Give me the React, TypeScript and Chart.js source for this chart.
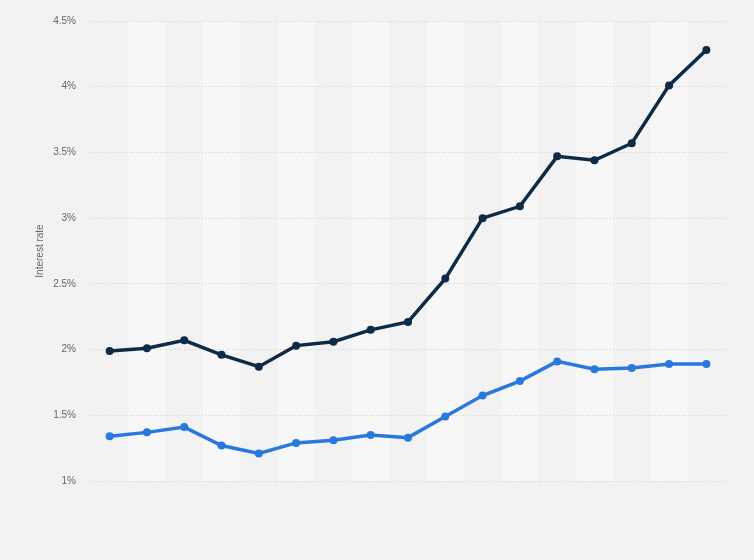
import React, { useEffect, useRef } from "react";
import { Chart, registerables } from "chart.js";

Chart.register(...registerables);

const categories = ["1", "2", "3", "4", "5", "6", "7", "8", "9", "10", "11", "12", "13", "14", "15", "16", "17"];
const seriesDark = [1.99, 2.01, 2.07, 1.96, 1.87, 2.03, 2.06, 2.15, 2.21, 2.54, 3.0, 3.09, 3.47, 3.44, 3.57, 4.01, 4.28];
const seriesBlue = [1.34, 1.37, 1.41, 1.27, 1.21, 1.29, 1.31, 1.35, 1.33, 1.49, 1.65, 1.76, 1.91, 1.85, 1.86, 1.89, 1.89];
const yTicks = [1, 1.5, 2, 2.5, 3, 3.5, 4, 4.5];

const bgPlugin = {
  id: "bgBands",
  beforeDraw(chart: any) {
    const { ctx, chartArea, scales } = chart;
    ctx.save();
    ctx.fillStyle = "#f2f2f2";
    ctx.fillRect(0, 0, chart.width, chart.height);
    const xs = scales.x;
    const n = categories.length;
    const step = (chartArea.right - chartArea.left) / n;
    ctx.fillStyle = "#f7f7f7";
    for (let i = 1; i < n; i += 2) {
      const cx = xs.getPixelForValue(i);
      ctx.fillRect(cx - step / 2, chartArea.top, step, chartArea.bottom - chartArea.top);
    }
    ctx.restore();
  },
};

export default function App() {
  const ref = useRef<HTMLCanvasElement>(null);
  useEffect(() => {
    document.body.style.margin = "0";
    const chart = new Chart(ref.current!, {
      type: "line",
      data: {
        labels: categories,
        datasets: [
          {
            data: seriesDark,
            borderColor: "#0f2a44",
            backgroundColor: "#0f2a44",
            borderWidth: 3.5,
            pointRadius: 4,
            pointBorderWidth: 0,
            tension: 0,
          },
          {
            data: seriesBlue,
            borderColor: "#2a78de",
            backgroundColor: "#2a78de",
            borderWidth: 3.5,
            pointRadius: 4,
            pointBorderWidth: 0,
            tension: 0,
          },
        ],
      },
      options: {
        responsive: false,
        animation: false,
        layout: { padding: { top: 20, bottom: 79, right: 29, left: 0 } },
        plugins: { legend: { display: false }, tooltip: { enabled: false } },
        scales: {
          x: { display: false, offset: true },
          y: {
            min: 1,
            max: 4.5,
            afterFit: (s: any) => {
              s.width = 91;
            },
            afterBuildTicks: (s: any) => {
              s.ticks = yTicks.map((v) => ({ value: v }));
            },
            border: { display: false, dash: [1, 2] },
            grid: {
              color: "#cfcfcf",
              lineWidth: 1,
              drawTicks: false,
            },
            ticks: {
              padding: 15,
              color: "#666666",
              font: { family: "'Liberation Sans', Arial, sans-serif", size: 10 },
              callback: (v: any) => `${v}%`,
            },
            title: {
              display: true,
              text: "Interest rate",
              color: "#666666",
              font: { family: "'Liberation Sans', Arial, sans-serif", size: 10 },
              padding: { top: 34, bottom: 0 },
            },
          },
        },
      },
      plugins: [bgPlugin],
    });
    return () => chart.destroy();
  }, []);
  return <canvas ref={ref} width={754} height={560} style={{ display: "block" }} />;
}
